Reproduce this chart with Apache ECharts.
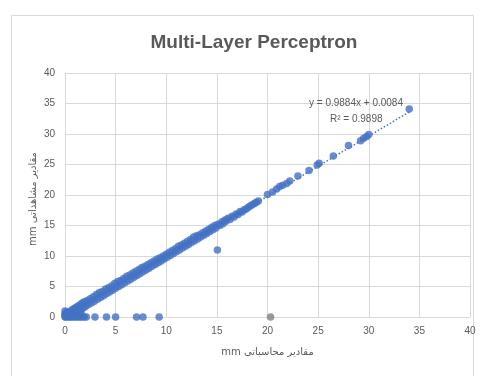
<!DOCTYPE html>
<html>
<head>
<meta charset="utf-8">
<script src="https://cdn.jsdelivr.net/npm/echarts@6/dist/echarts.min.js"></script>
<style>html,body{margin:0;padding:0;background:#fff}#c{width:480px;height:376px}</style>
</head>
<body>
<div id="c"></div>
<script>
var titleText = 'Multi-Layer Perceptron';
var xName = 'mm مقادیر محاسباتی';
var yName = 'mm مقادیر مشاهداتی';
var equationText = 'y = 0.9884x + 0.0084';
var r2Text = 'R² = 0.9898';
var axisTicks = [0, 5, 10, 15, 20, 25, 30, 35, 40];

var bandPoints = [
[0,0],[0,0.3],[0,0.5],[0,1.0],[0.1,0.3],[0.2,0.1],[0.2,0.8],[0.3,0.3],[0.3,0.6],[0.4,0.2],[0.5,0.9],[0.6,0.1],[0.6,0.4],
[0.7,1.2],[0.8,0.2],[0.8,0.5],[0.9,1.4],[1.0,0.3],[1.0,0.7],[1.2,0.4],[1.4,0.3],[1.6,0.5],
[1.1,1.6],[1.2,0.9],[1.3,1.8],[1.4,1.0],[1.5,2.0],[1.6,1.2],[1.7,2.3],[1.8,1.5],[1.9,2.5],[2.0,1.7],[2.2,2.7],[2.3,2.0],
[2.5,3.0],[2.6,2.3],[2.8,3.3],[2.9,2.6],[3.1,3.7],[3.2,2.9],[3.4,4.0],[3.5,3.2],[3.7,4.2],[3.8,3.5],[4.0,4.6],[4.1,3.8],
[4.3,4.8],[4.4,4.1],[4.6,5.1],[4.7,4.4],[4.9,5.5],[5.0,4.7],[5.2,5.8],[5.3,5.0],[5.5,6.0],[5.6,5.3],[5.8,6.3],[5.9,5.6],
[6.1,6.7],[6.2,5.9],[6.4,6.9],[6.5,6.2],[6.7,7.2],[6.8,6.5],[7.0,7.5],[7.1,6.8],[7.3,7.8],[7.4,7.1],[7.6,8.1],[7.7,7.4],
[7.9,8.3],[8.0,7.7],[8.2,8.6],[8.3,8.0],[8.5,8.9],[8.6,8.3],[8.8,9.2],[8.9,8.6],[9.1,9.5],[9.2,8.9],[9.4,9.7],[9.5,9.2],
[9.7,10.0],[9.8,9.5],[10.0,10.3],[10.1,9.8],[10.3,10.6],[10.4,10.1],[10.6,10.9],[10.7,10.4],[10.9,11.2],[11.0,10.7],
[11.2,11.6],[11.3,11.0],[11.5,11.8],[11.6,11.3],[11.8,12.1],[11.9,11.6],[12.1,12.4],[12.2,11.9],[12.4,12.7],[12.5,12.2],
[12.7,13.1],[12.8,12.5],[13.0,13.3],[13.1,12.8],[13.3,13.5],[13.4,13.1],[13.6,13.8],[13.7,13.4],[13.9,14.1],[14.0,13.7],
[14.2,14.4],[14.3,14.0],[14.5,14.7],[14.6,14.3],[14.8,15.0],[14.9,14.6],[15.1,15.2],[15.3,15.0],[15.5,15.6],[15.6,15.3],
[15.8,15.9],[15.9,15.7],[16.1,16.2],[16.3,16.0],[16.5,16.5],[16.7,16.4],[16.9,16.9],[17.1,16.8],[17.3,17.3],[17.5,17.2],
[17.7,17.6],[17.9,17.7],[18.1,18.0],[18.3,18.2],[18.5,18.4],[18.7,18.6],[18.9,18.8],[19.1,19.0]
];
var sparsePoints = [
[20.0,20.1],[20.5,20.5],[20.9,21.0],[21.2,21.4],[21.5,21.6],[21.9,21.9],[22.2,22.3],[23.0,23.1],[24.1,24.0],[24.9,24.9],
[25.1,25.2],[26.5,26.4],[28.0,28.1],[29.2,28.9],[29.5,29.3],[29.8,29.6],[30.0,29.9],[34.0,34.1],[15.05,11.0]
];
var zeroRowPoints = [
[0.1,0],[0.3,0],[0.5,0],[0.7,0],[0.9,0],[1.1,0],[1.3,0],[1.5,0],[1.7,0],[1.9,0],[2.1,0],[2.96,0],[4.1,0],[5.0,0],[7.07,0],[7.7,0],[9.3,0]
];
var grayPoints = [[20.3,0]];
var trendPoints = [[0,0.0084],[34.0,33.614]];

var chart = echarts.init(document.getElementById('c'), null, {renderer:'canvas'});
var gridColor = '#d9d9d9';
var txt = '#595959';
var blue = '#4472C4';
var fontFam = 'Liberation Sans, Arial, DejaVu Sans, sans-serif';

chart.setOption({
  animation: false,
  backgroundColor: '#fff',
  title: {
    text: titleText, left: 249, top: 28, textAlign: 'center',
    textStyle: {color: txt, fontSize: 19, fontWeight: 'bold', fontFamily: fontFam}
  },
  grid: {left: 65, right: 10, top: 73, bottom: 59, containLabel: false},
  xAxis: {
    type: 'value', min: axisTicks[0], max: axisTicks[axisTicks.length-1], interval: 5,
    name: xName, nameLocation: 'middle', nameGap: 30,
    nameTextStyle: {color: txt, fontSize: 10, fontFamily: 'DejaVu Sans, sans-serif'},
    axisLine: {show: true, lineStyle: {color: gridColor}},
    axisTick: {show: false},
    axisLabel: {color: txt, fontSize: 10, margin: 9, fontFamily: fontFam},
    splitLine: {show: true, lineStyle: {color: gridColor, width: 1}}
  },
  yAxis: {
    type: 'value', min: axisTicks[0], max: axisTicks[axisTicks.length-1], interval: 5,
    axisLine: {show: false},
    axisTick: {show: false},
    axisLabel: {color: txt, fontSize: 10, margin: 10, fontFamily: fontFam},
    splitLine: {show: true, lineStyle: {color: gridColor, width: 1}}
  },
  graphic: [
    {type: 'rect', silent: true, z: -1, shape: {x: 11.5, y: 15.5, width: 462, height: 400},
     style: {fill: 'none', stroke: gridColor, lineWidth: 1}},
    {type: 'text', x: 33, y: 199, rotation: Math.PI / 2, z: 10,
     style: {text: yName, fill: txt, fontSize: 10, fontFamily: 'DejaVu Sans, sans-serif', align: 'center', verticalAlign: 'middle'}},
    {type: 'text', left: 309, top: 98, z: 10,
     style: {text: equationText, fill: txt, fontSize: 10, fontFamily: fontFam}},
    {type: 'text', left: 330, top: 114, z: 10,
     style: {text: r2Text, fill: txt, fontSize: 10, fontFamily: fontFam}}
  ],
  series: [
    {type: 'line', data: trendPoints, symbol: 'none', z: 1,
     lineStyle: {color: blue, width: 1.5, type: [1.5, 2]}},
    {type: 'scatter', data: bandPoints, symbolSize: 7.5, itemStyle: {color: blue}, z: 2},
    {type: 'scatter', data: sparsePoints, symbolSize: 7.5, itemStyle: {color: blue}, z: 2},
    {type: 'scatter', data: zeroRowPoints, symbolSize: 7.5, itemStyle: {color: blue}, z: 2},
    {type: 'scatter', data: grayPoints, symbolSize: 7.5, itemStyle: {color: '#7f7f7f'}, z: 2}
  ]
});
</script>
</body>
</html>
